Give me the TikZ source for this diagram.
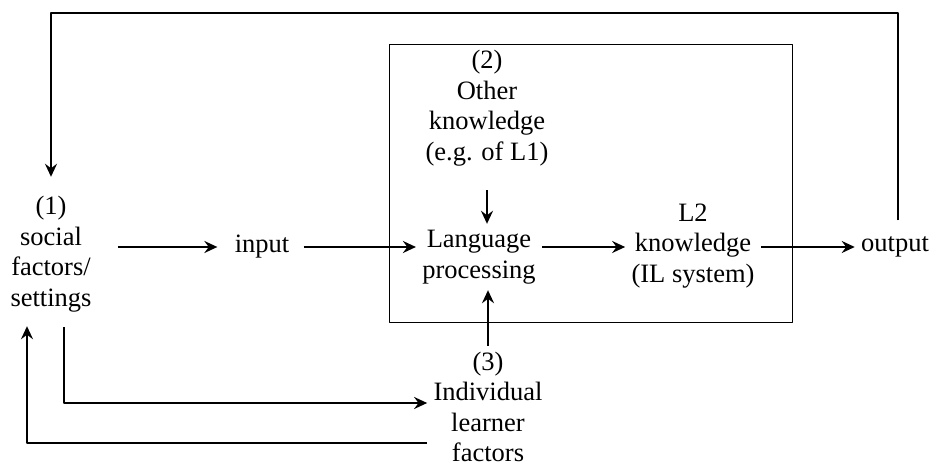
\documentclass[tikz,border=0pt]{standalone}
\usepackage{fontspec}
\setmainfont{Liberation Serif}
\usetikzlibrary{arrows.meta}
\begin{document}
\begin{tikzpicture}[x=0.5pt, y=-0.5pt, font=\fontsize{13.25}{15.25}\selectfont, line join=round, >={Stealth[length=6.5pt,width=6pt,inset=2.2pt]}, txt/.style={align=center, inner sep=3pt}, arr/.style={->, line width=1.25pt}]
			\useasboundingbox (0,0) rectangle (937,464);
			\draw[line width=0.5pt] (389,45) rectangle (792,323);
			\node[txt] (soc) at (51,254) {(1)\\social\\factors/\\settings};
			\node[txt] (inp) at (262,247) {input};
			\node[txt] (lp) at (479,257) {Language\\processing};
			\node[txt] (lk) at (693,246) {L2\\knowledge\\(IL system)};
			\node[txt] (out) at (895,247) {output};
			\node[txt] (oth) at (487,108) {(2)\\Other\\knowledge\\(e.g. of L1)};
			\node[txt] (ind) at (488,407) {(3)\\Individual\\learner\\factors};
			\coordinate (top) at (898,13);
			\coordinate (bl) at (64,403);
			\coordinate (bb) at (27,443);
			\draw[arr, shorten <=10pt, shorten >=5.5pt] (soc.east |- inp) -- (inp);
			\draw[arr, shorten <=4pt] (inp) -- (lp.west |- inp);
			\draw[arr] (lp.east |- inp) -- (lk.west |- inp);
			\draw[arr] (lk.east |- inp) -- (out);
			\draw[arr, shorten <=9pt] (oth.south) -- (oth.south |- lp.north);
			\draw[arr] (ind.north) -- (ind.north |- lp.south);
			\draw[arr, shorten <=5pt, shorten >=6.5pt] (out.north -| top) -- (top) -| (soc.north);
			\draw[arr, shorten <=4.5pt] (soc.south -| bl) |- (ind.west |- bl);
			\draw[arr, shorten >=4pt] (ind.west |- bb) -| (soc.south -| bb);
\end{tikzpicture}
\end{document}
